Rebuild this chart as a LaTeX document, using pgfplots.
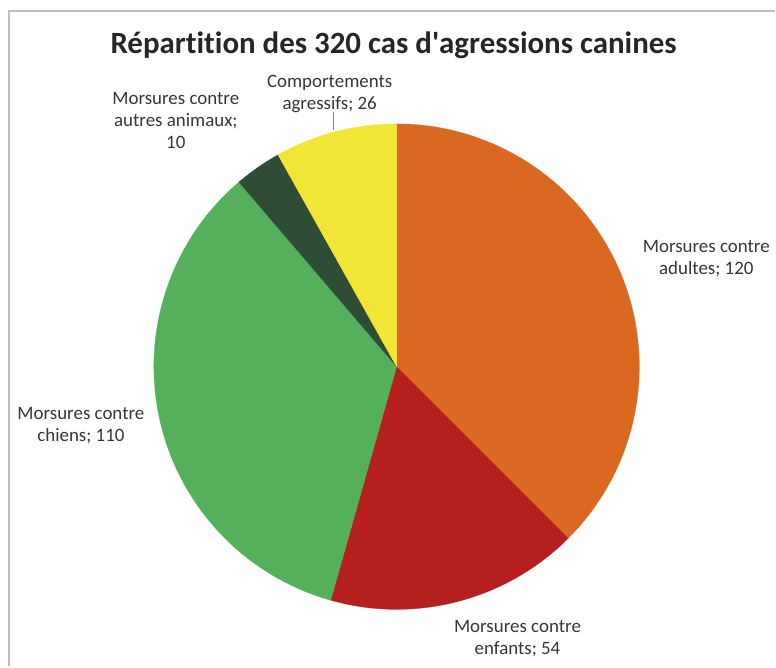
\documentclass[border=0pt]{standalone}
\usepackage{pgfplots}
\pgfplotsset{compat=1.18}
\usepackage{fontspec}
\setmainfont{Carlito}[Ligatures={NoCommon}]
\definecolor{cOrange}{HTML}{DA6820}
\definecolor{cRed}{HTML}{B51F1F}
\definecolor{cGreen}{HTML}{55B05B}
\definecolor{cDark}{HTML}{2F4D35}
\definecolor{cYellow}{HTML}{F3E535}
\definecolor{cText}{HTML}{363636}
\definecolor{cFrame}{HTML}{BDBDBD}
\begin{document}
\begin{tikzpicture}
\begin{axis}[
  scale only axis, width=582pt, height=500.25pt,
  xmin=0, xmax=776, ymin=0, ymax=667,
  hide axis, clip=false, samples=120, variable=\t,
]
\path (axis cs:0,0) rectangle (axis cs:776,667);
% values: adultes 120, enfants 54, chiens 110, autres animaux 10, agressifs 26 (total 320)
\addplot[fill=cOrange, draw=cOrange, line width=0.2pt, domain={90-360*120/320}:{90}]
  ({397+243*cos(t)},{300+243*sin(t)}) -- (axis cs:397,300) -- cycle;
\addplot[fill=cRed, draw=cRed, line width=0.2pt, domain={90-360*(120+54)/320}:{90-360*120/320}]
  ({397+243*cos(t)},{300+243*sin(t)}) -- (axis cs:397,300) -- cycle;
\addplot[fill=cGreen, draw=cGreen, line width=0.2pt, domain={90-360*(120+54+110)/320}:{90-360*(120+54)/320}]
  ({397+243*cos(t)},{300+243*sin(t)}) -- (axis cs:397,300) -- cycle;
\addplot[fill=cDark, draw=cDark, line width=0.2pt, domain={90-360*(120+54+110+10)/320}:{90-360*(120+54+110)/320}]
  ({397+243*cos(t)},{300+243*sin(t)}) -- (axis cs:397,300) -- cycle;
\addplot[fill=cYellow, draw=cYellow, line width=0.2pt, domain={90-360*(120+54+110+10+26)/320}:{90-360*(120+54+110+10)/320}]
  ({397+243*cos(t)},{300+243*sin(t)}) -- (axis cs:397,300) -- cycle;
% leader line
\addplot[cFrame!70!black, line width=0.6pt] coordinates {(334,555) (334,537)};
% frame
\addplot[cFrame, line width=1.2pt] coordinates {(9,0) (9,656) (776,656)};
% title
\node[font=\fontsize{23.2}{26}\selectfont\bfseries, text=black!85] at (axis cs:394,622) {Répartition des 320 cas d\textquotesingle agressions canines};
% labels
\tikzset{lbl/.style={align=center, text=cText, font=\fontsize{14.2}{16.5}\selectfont}}
\node[lbl] at (axis cs:330,573) {Comportements\\agressifs; 26};
\node[lbl] at (axis cs:176,546) {Morsures contre\\autres animaux;\\10};
\node[lbl] at (axis cs:707,408) {Morsures contre\\adultes; 120};
\node[lbl] at (axis cs:81,241) {Morsures contre\\chiens; 110};
\node[lbl] at (axis cs:518,28) {Morsures contre\\enfants; 54};
\end{axis}
\end{tikzpicture}
\end{document}
